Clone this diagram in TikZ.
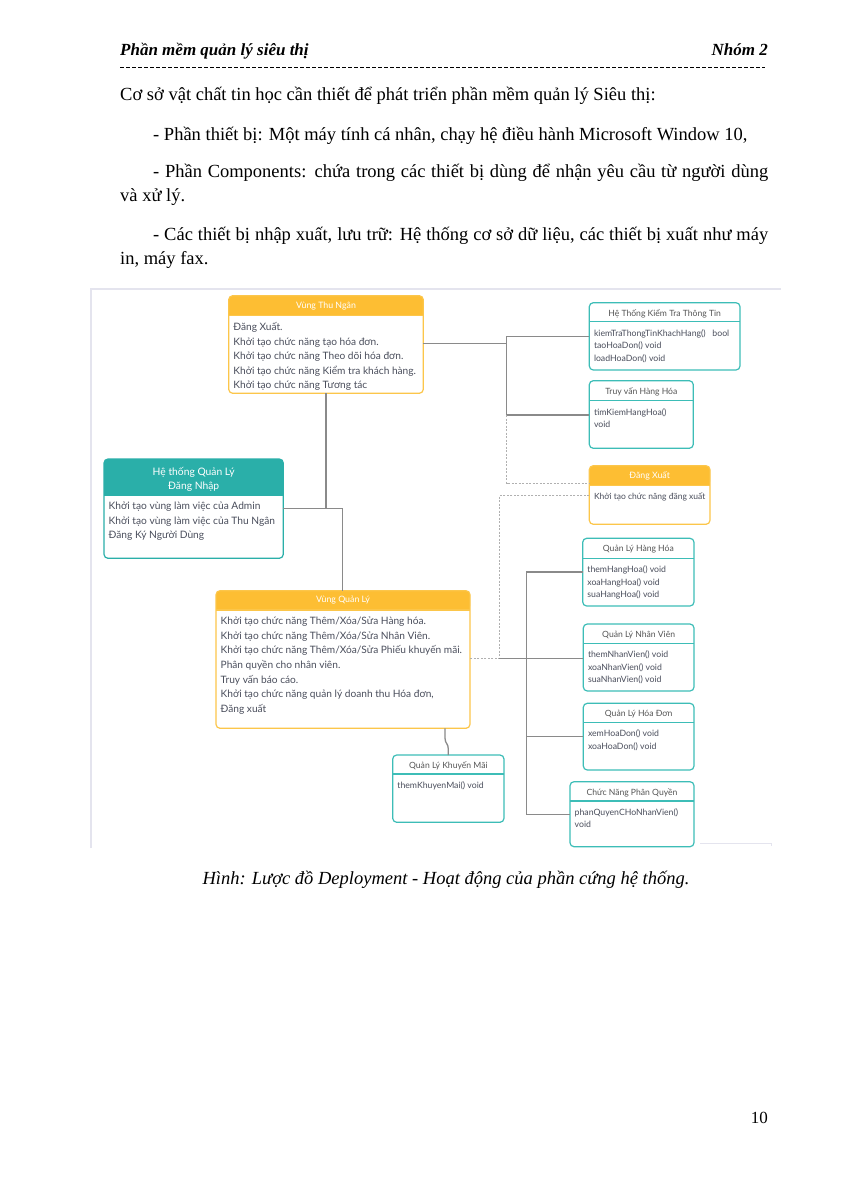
\documentclass[tikz,border=0pt]{standalone}
\usepackage{fontspec}
\setmainfont{Liberation Serif}
\newfontfamily\lato{Lato}
\usetikzlibrary{calc}
\definecolor{orgB}{HTML}{FCC64A}
\definecolor{orgH}{HTML}{FDBE33}
\definecolor{orgT}{HTML}{FFFFFF}
\colorlet{orsB}{orgB}
\colorlet{orsH}{orgH}
\colorlet{orsT}{orgT}
\definecolor{tlB}{HTML}{3DBDB7}
\definecolor{tlH}{HTML}{FFFFFF}
\definecolor{tlT}{HTML}{555555}
\definecolor{tfB}{HTML}{2AAFA9}
\definecolor{tfH}{HTML}{2AAFA9}
\definecolor{tfT}{HTML}{FFFFFF}
\definecolor{bodytxt}{HTML}{4A4E5C}
\definecolor{connc}{HTML}{8A8A8A}
\definecolor{dashc}{HTML}{B0B0B0}
\definecolor{framec}{HTML}{E4E4EE}
\tikzset{
  org body/.style={font=\lato\fontsize{10.15}{14.6}\selectfont, yshift=-1pt},
  ors body/.style={font=\lato\fontsize{8.5}{12.3}\selectfont},
  tf body/.style={font=\lato\fontsize{10.2}{14.3}\selectfont, yshift=-1pt},
  tl body/.style={font=\lato\fontsize{8.7}{12.4}\selectfont, yshift=-0.8pt},
  org title/.style={font=\lato\fontsize{8.8}{10}\selectfont},
  ors title/.style={font=\lato\fontsize{8.8}{10}\selectfont},
  tl title/.style={font=\lato\fontsize{8.6}{10}\selectfont, yshift=-1.3pt},
  tf title/.style={font=\lato\fontsize{10.3}{13.4}\selectfont, yshift=-2.2pt},
  conn/.style={draw=connc, line width=1.3pt},
  dconn/.style={draw=dashc, line width=1pt, dash pattern=on 2pt off 1.5pt},
  pagetext/.style={font=\fontsize{18.5}{24}\selectfont, inner sep=0pt},
}
% #1 name, #2 x, #3 y, #4 w, #5 h, #6 header h, #7 kind, #8 title, #9 body
\newcommand\classbox[9]{%
  \fill[#7H, rounded corners=4pt] (#2,#3) rectangle ++(#4,#6);
  \fill[#7H] (#2,#3+#6/2) rectangle ++(#4,#6/2);
  \node[draw=#7B, line width=1.2pt, rounded corners=4pt, minimum width=#4pt,
        minimum height=#5pt, anchor=north west, inner sep=0pt, outer sep=0pt] (#1) at (#2,#3) {};
  \draw[#7B, line width=1.2pt] (#2,#3+#6) -- ++(#4,0);
  \node[#7 title, text=#7T, align=center, inner sep=0pt] (#1-t) at (#2+#4/2,#3+#6/2) {#8};
  \node[#7 body, text=bodytxt, align=left, anchor=north west, inner sep=0pt] (#1-b)
        at (#2+4.5,#3+#6+2.5) {\rule{0pt}{11pt}#9};
}
\begin{document}
\begin{tikzpicture}[x=1pt,y=-1pt]
\fill[white] (0,0) rectangle (849,1200);
\useasboundingbox (0,0) rectangle (849,1200);

% page header
\node[anchor=base west, inner sep=0pt, font=\fontsize{17}{20}\selectfont\bfseries\itshape] (hl) at (120,55) {Phần mềm quản lý siêu thị};
\node[anchor=base east, inner sep=0pt, font=\fontsize{17}{20}\selectfont\bfseries\itshape] (hr) at (768,55) {Nhóm 2};
\draw[black, line width=1.6pt, dash pattern=on 4.4pt off 1.6pt] (120,67.5) -- (765,67.5);

% body text
\node[pagetext, anchor=base west] (p1) at (120,100) {Cơ sở vật chất tin học cần thiết để phát triển phần mềm quản lý Siêu thị:};
\node[pagetext, anchor=base west] (p2) at (153,140) {- Phần thiết bị: Một máy tính cá nhân, chạy hệ điều hành Microsoft Window 10,};
\node[pagetext, anchor=base west] (p3) at (153,177) {\makebox[615pt][s]{- Phần Components: chứa trong các thiết bị dùng để nhận yêu cầu từ người dùng}};
\node[pagetext, anchor=base west] (p4) at (120,201) {và xử lý.};
\node[pagetext, anchor=base west] (p5) at (153,240) {\makebox[615pt][s]{- Các thiết bị nhập xuất, lưu trữ: Hệ thống cơ sở dữ liệu, các thiết bị xuất như máy}};
\node[pagetext, anchor=base west] (p6) at (120,264) {in, máy fax.};

% diagram frame
\draw[framec, line width=1.5pt] (91,848) -- (91,289) -- (781,289);
\draw[framec, line width=1pt] (700,843.5) -- (771,843.5) -- (771,846);

% boxes
\classbox{vtn}{228.7}{295.7}{194.6}{97.6}{20}{org}{Vùng Thu Ngân}{Đăng Xuất.\\Khởi tạo chức năng tạo hóa đơn.\\Khởi tạo chức năng Theo dõi hóa đơn.\\Khởi tạo chức năng Kiểm tra khách hàng.\\Khởi tạo chức năng Tương tác}
\classbox{htk}{589.3}{302.7}{150.7}{67.3}{19}{tl}{Hệ Thống Kiểm Tra Thông Tin}{kiemTraThongTinKhachHang()\ \ \ bool\\taoHoaDon() void\\loadHoaDon() void}
\classbox{tvh}{589.3}{380.7}{104}{67.6}{20}{tl}{Truy vấn Hàng Hóa}{timKiemHangHoa()\\void}
\classbox{dn}{104}{459}{179.3}{99.3}{36}{tf}{Hệ thống Quản Lý\\Đăng Nhập}{Khởi tạo vùng làm việc của Admin\\Khởi tạo vùng làm việc của Thu Ngân\\Đăng Ký Người Dùng}
\classbox{dx}{589.3}{465.7}{120.7}{58.6}{20}{ors}{Đăng Xuất}{Khởi tạo chức năng đăng xuất}
\classbox{qlhh}{582.7}{538.3}{111.3}{67.7}{20}{tl}{Quản Lý Hàng Hóa}{themHangHoa() void\\xoaHangHoa() void\\suaHangHoa() void}
\classbox{vql}{216}{590.7}{254}{137.6}{19.3}{org}{Vùng Quản Lý}{Khởi tạo chức năng Thêm/Xóa/Sửa Hàng hóa.\\Khởi tạo chức năng Thêm/Xóa/Sửa Nhân Viên.\\Khởi tạo chức năng Thêm/Xóa/Sửa Phiếu khuyến mãi.\\Phân quyền cho nhân viên.\\Truy vấn báo cáo.\\Khởi tạo chức năng quản lý doanh thu Hóa đơn,\\Đăng xuất}
\classbox{qlnv}{583.3}{624}{110.7}{67}{19.3}{tl}{Quản Lý Nhân Viên}{themNhanVien() void\\xoaNhanVien() void\\suaNhanVien() void}
\classbox{qlhd}{583.3}{703.3}{110.7}{66.7}{19}{tl}{Quản Lý Hóa Đơn}{xemHoaDon() void\\xoaHoaDon() void}
\classbox{qlkm}{392.7}{755}{111.3}{67.3}{19}{tl}{Quản Lý Khuyến Mãi}{themKhuyenMai() void}
\classbox{cnpq}{570}{781.7}{124}{65}{19.3}{tl}{Chức Năng Phân Quyền}{phanQuyenCHoNhanVien()\\void}

% junction coordinates
\coordinate (ja) at (506.7,343.5);
\coordinate (jt) at (506.7,336.7);
\coordinate (jb) at (506.7,415);
\coordinate (jd) at (506.7,483.3);
\coordinate (je) at (499.3,495.7);
\coordinate (jf) at (499.3,658.5);
\coordinate (jg) at (526.7,658.5);
\coordinate (ji) at (342.3,508.3);
\coordinate (bk) at (526.7,572);
\coordinate (bl) at (526.7,736.5);
\coordinate (bm) at (526.7,814.5);
\coordinate (k1) at (445,738);
\coordinate (k2) at (448.3,749);

% connectors
\draw[conn] (vtn.east |- ja) -- (ja);
\draw[conn] (jt -| htk.west) -- (jt) -- (jb) -- (jb -| tvh.west);
\draw[dconn] (jb) -- (jd) -- (jd -| dx.west);
\draw[dconn] (je -| dx.west) -- (je) -- (jf) -- (jf -| vql.east);
\draw[conn] (jf) -- (jg) -- (jg -| qlnv.west);
\draw[conn] (bk -| qlhh.west) -- (bk) -- (bm) -- (bm -| cnpq.west);
\draw[conn] (bl) -- (bl -| qlhd.west);
\draw[conn] (vtn.south) -- (vtn.south |- ji);
\draw[conn] (dn.east |- ji) -- (ji) -- (ji |- vql.north);
\draw[conn] (k1 |- vql.south) -- (k1) .. controls (445,744) and (448.3,743) .. (k2) -- (k2 |- qlkm.north);

% caption and page number
\node[pagetext, font=\fontsize{18.5}{24}\selectfont\itshape, anchor=base] (cap) at (446,884) {Hình: Lược đồ Deployment - Hoạt động của phần cứng hệ thống.};
\node[anchor=base east, inner sep=0pt, font=\fontsize{17}{20}\selectfont] (pg) at (768,1123) {10};
\end{tikzpicture}
\end{document}
